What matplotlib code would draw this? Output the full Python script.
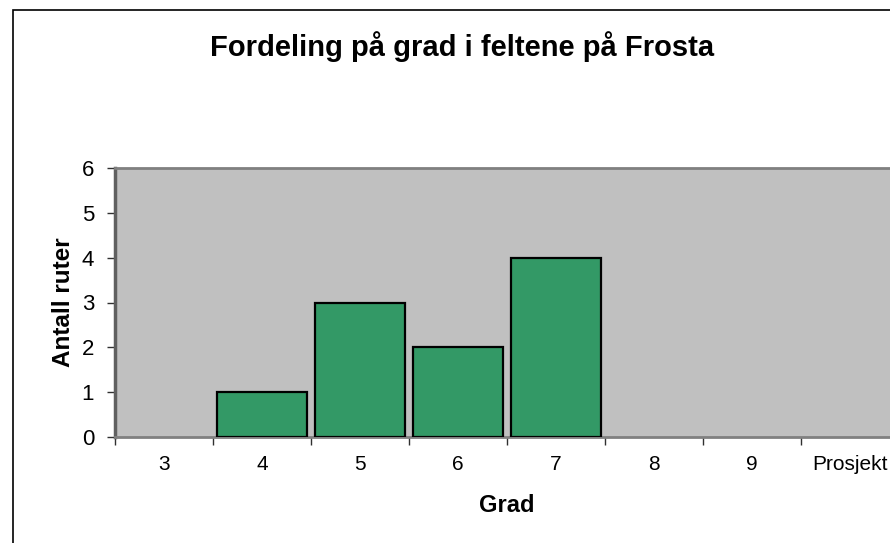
import matplotlib.pyplot as plt
from matplotlib.patches import Rectangle

plt.rcParams['font.family'] = ['Liberation Sans', 'DejaVu Sans']

# counts of fields per grade
grades = ['3', '4', '5', '6', '7', '8', '9', 'Prosjekt']
counts = [0, 1, 3, 2, 4, 0, 0, 0]

W, H = 890, 543
fig = plt.figure(figsize=(W / 100, H / 100), dpi=100)

# outer chart border (runs past the right and bottom edges)
fig.patches.append(Rectangle((13 / W, -0.05), 1.2, 1 - 9.5 / H + 0.05,
                             transform=fig.transFigure, fill=False,
                             edgecolor='black', linewidth=1.2))

# plot area, right end goes slightly past the figure edge
ax = fig.add_axes([115 / W, (H - 437) / H, (899 - 115) / W, (437 - 168) / H])
ax.set_facecolor('#C0C0C0')

x = list(range(len(grades)))
# empty grades get no bar at all
bx = [i for i, c in zip(x, counts) if c > 0]
by = [c for c in counts if c > 0]
ax.bar(bx, by, width=0.91, color='#339966', edgecolor='black',
       linewidth=1.6, zorder=3)

ax.set_xlim(-0.5, len(grades) - 0.5)
ax.set_ylim(0, 6)
ax.set_yticks(range(0, 7))
ax.set_xticks(x)
ax.set_xticklabels(grades)

# category separators on the x axis
ax.set_xticks([i - 0.5 for i in range(len(grades))], minor=True)
ax.tick_params(axis='x', which='major', length=0, pad=13, labelsize=15)
ax.tick_params(axis='x', which='minor', length=6, width=1, color='#303030',
               direction='out')
ax.tick_params(axis='y', length=6, width=1, color='#303030', pad=9,
               labelsize=16)

for side in ['top', 'right', 'bottom']:
    ax.spines[side].set_color('#808080')
    ax.spines[side].set_linewidth(2)
ax.spines['left'].set_color('#606060')
ax.spines['left'].set_linewidth(2.5)

ax.set_xlabel('Grad', fontsize=17, fontweight='bold', labelpad=14)
ax.set_ylabel('Antall ruter', fontsize=17.5, fontweight='bold', labelpad=5)

fig.text(462 / W, 1 - 47 / H, 'Fordeling på grad i feltene på Frosta',
         ha='center', va='center', fontsize=21, fontweight='bold')

fig.savefig('out.png', dpi=100)
